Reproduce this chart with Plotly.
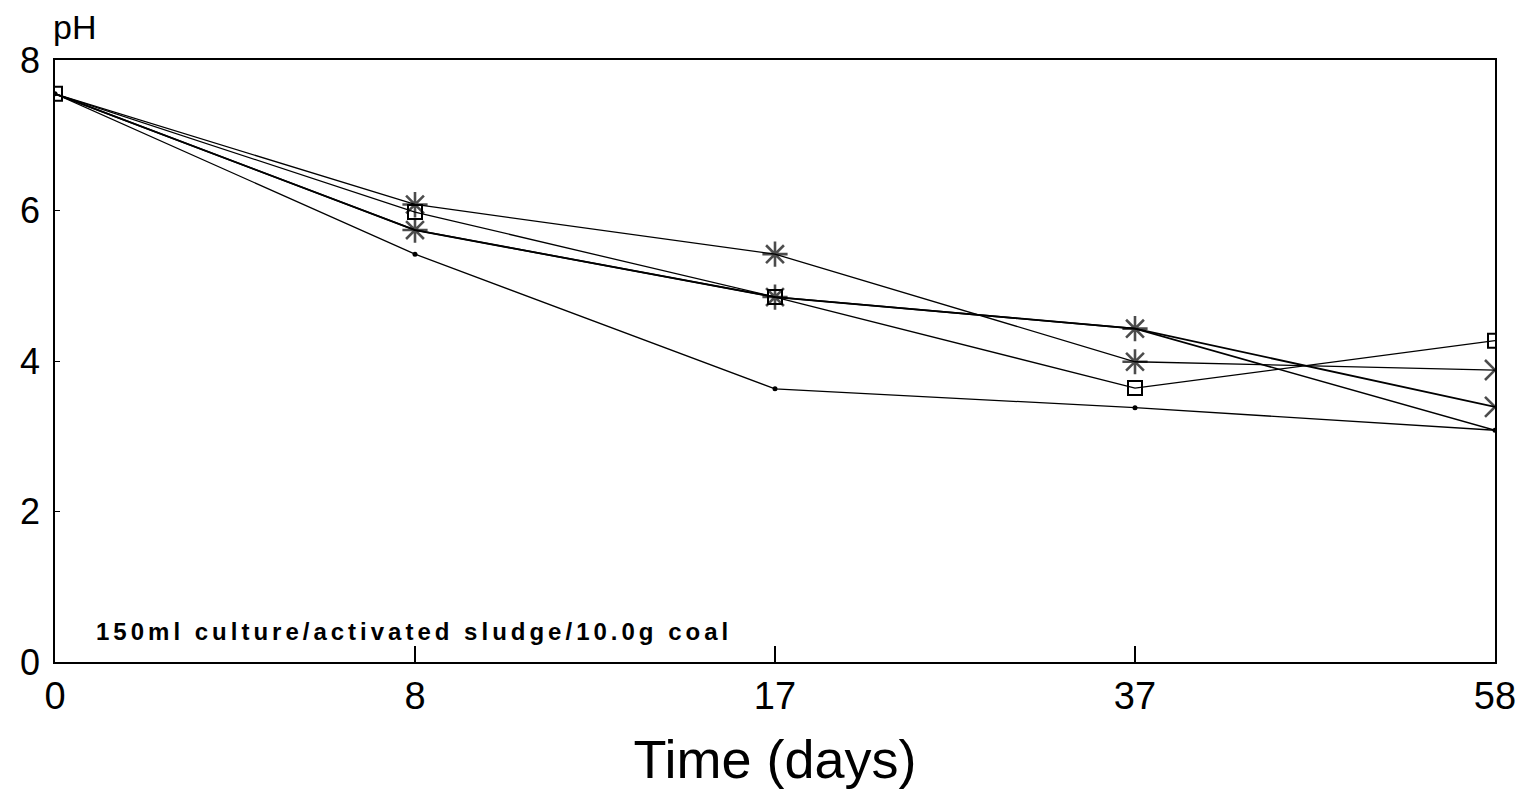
import plotly.graph_objects as go

# Data
days = ["0", "8", "17", "37", "58"]
x_pos = [0, 1, 2, 3, 4]
y_ticks = [0, 2, 4, 6, 8]

ph_square = [7.55, 5.98, 4.85, 3.64, 4.27]
ph_dot = [7.55, 5.42, 3.63, 3.38, 3.08]
ph_star_a = [7.55, 6.08, 5.42, 3.99, 3.88]
ph_star_b = [7.55, 5.74, 4.85, 4.43, 3.39]
ph_series_e = [7.55, 5.74, 4.85, 4.43, 3.08]

fig = go.Figure()

black = "#000000"

fig.add_trace(go.Scatter(
    x=x_pos, y=ph_series_e, mode="lines",
    line=dict(color=black, width=1.6), showlegend=False, hoverinfo="skip"))

fig.add_trace(go.Scatter(
    x=x_pos, y=ph_dot, mode="lines+markers",
    line=dict(color=black, width=1.3),
    marker=dict(symbol="circle", size=5, color=black),
    showlegend=False))

fig.add_trace(go.Scatter(
    x=x_pos, y=ph_star_a, mode="lines+markers",
    line=dict(color=black, width=1.3),
    marker=dict(symbol=["asterisk-open"] * 4 + ["x-thin-open"],
                size=[0, 21, 21, 21, 20], color=black,
                line=dict(color=black, width=2.6)),
    showlegend=False))

fig.add_trace(go.Scatter(
    x=x_pos, y=ph_star_b, mode="lines+markers",
    line=dict(color=black, width=1.8),
    marker=dict(symbol=["asterisk-open"] * 4 + ["x-thin-open"],
                size=[0, 21, 21, 21, 20], color=black,
                line=dict(color=black, width=2.6)),
    showlegend=False))

fig.add_trace(go.Scatter(
    x=x_pos, y=ph_square, mode="lines+markers",
    line=dict(color=black, width=1.3),
    marker=dict(symbol="square-open", size=14, color=black,
                line=dict(color=black, width=2)),
    showlegend=False))

fig.update_layout(
    width=1531, height=789,
    margin=dict(l=42, r=44, t=52, b=135),
    paper_bgcolor="white", plot_bgcolor="white",
    font=dict(family="Liberation Sans, Arial, sans-serif", color=black),
    xaxis=dict(
        range=[0, 4], tickmode="array", tickvals=x_pos, ticktext=days,
        showgrid=False, zeroline=False,
        showline=True, linecolor=black, linewidth=1.5, mirror=True,
        ticks="inside", ticklen=16, tickwidth=1.5, tickcolor=black,
        tickfont=dict(size=38), ticklabelstandoff=0,
        title=dict(text="Time (days)", font=dict(size=54), standoff=24),
    ),
    yaxis=dict(
        range=[0, 8], tickmode="array", tickvals=y_ticks,
        showgrid=False, zeroline=False,
        showline=True, linecolor=black, linewidth=1.5, mirror=True,
        ticks="inside", ticklen=5, tickwidth=1, tickcolor=black,
        tickfont=dict(size=36), ticklabelstandoff=6,
    ),
    annotations=[
        dict(text="pH", xref="paper", yref="paper", x=-0.003, y=1,
             xanchor="left", yanchor="bottom", yshift=12, showarrow=False,
             font=dict(size=34)),
        dict(text="<b><span style='letter-spacing:4px'>150ml culture/activated sludge/10.0g coal</span></b>",
             xref="paper", yref="paper", x=0.027, y=0.05,
             xanchor="left", yanchor="middle", showarrow=False,
             font=dict(size=24, family="Liberation Sans, Arial, sans-serif")),
    ],
)

fig.write_html("out.html")
